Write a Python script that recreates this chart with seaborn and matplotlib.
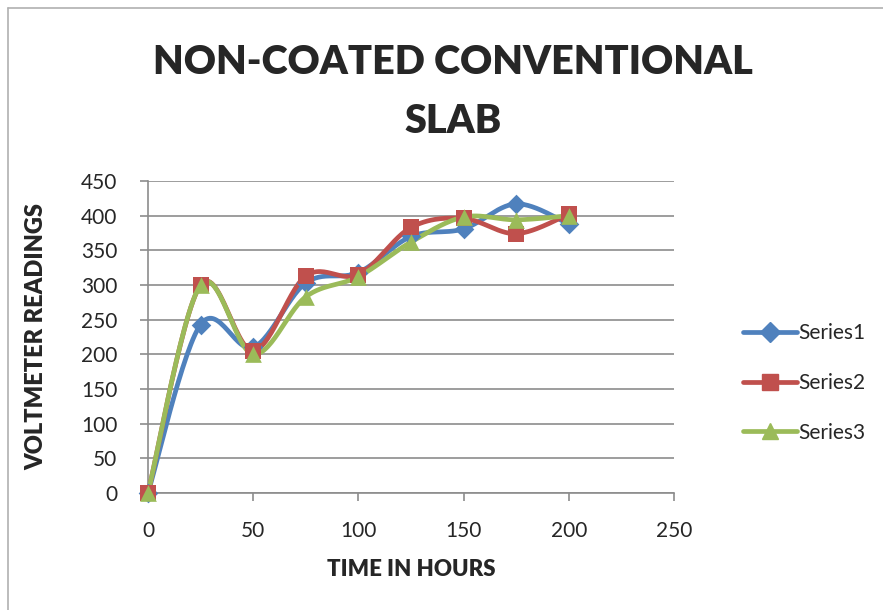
import numpy as np
import pandas as pd
import matplotlib
matplotlib.use("Agg")
import matplotlib.pyplot as plt
from matplotlib.lines import Line2D
import seaborn as sns

hours = [0, 25, 50, 75, 100, 125, 150, 175, 200]
series1 = [0, 243, 210, 303, 318, 370, 381, 417, 388]
series2 = [0, 300, 205, 313, 315, 383, 396, 374, 402]
series3 = [0, 300, 200, 283, 312, 362, 398, 394, 400]
series_names = ["Series1", "Series2", "Series3"]
x_ticks = [0, 50, 100, 150, 200, 250]
y_ticks = [0, 50, 100, 150, 200, 250, 300, 350, 400, 450]

colors = ["#4F81BD", "#C0504D", "#9BBB59"]
markers = ["D", "s", "^"]
msizes = [10, 12, 12]

sns.set_theme(style="white")
plt.rcParams["font.family"] = ["Lato", "DejaVu Sans"]

df = pd.DataFrame({
    "hours": hours * 3,
    "value": series1 + series2 + series3,
    "series": sum([[n] * len(hours) for n in series_names], []),
})


def bezier_smooth(xs, ys, n=30):
    P = np.column_stack([xs, ys]).astype(float)
    P_ext = np.vstack([P[0], P, P[-1]])
    out = []
    for i in range(len(P) - 1):
        p0, p1, p2, p3 = P_ext[i], P_ext[i + 1], P_ext[i + 2], P_ext[i + 3]
        c1 = p1 + (p2 - p0) / 6.0
        c2 = p2 - (p3 - p1) / 6.0
        t = np.linspace(0, 1, n)[:, None]
        seg = ((1 - t) ** 3) * p1 + 3 * ((1 - t) ** 2) * t * c1 + 3 * (1 - t) * t ** 2 * c2 + t ** 3 * p2
        out.append(seg if i == 0 else seg[1:])
    seg = np.vstack(out)
    return seg[:, 0], seg[:, 1]


fig = plt.figure(figsize=(8.83, 6.10), dpi=100)
ax = fig.add_axes([148 / 883, 1 - 493 / 610, (674 - 148) / 883, (493 - 181) / 610])

handles = []
for name, c, m, ms in zip(series_names, colors, markers, msizes):
    sub = df[df["series"] == name]
    sx, sy = bezier_smooth(sub["hours"].values, sub["value"].values)
    ax.plot(sx, sy, color=c, lw=3.4, solid_capstyle="round", zorder=3, clip_on=False)
    sns.scatterplot(x=sub["hours"], y=sub["value"], ax=ax, marker=m, s=ms ** 2,
                    color=c, edgecolor=c, linewidth=0, zorder=4, legend=False)
    handles.append(Line2D([0], [0], color=c, lw=3.4, marker=m, markersize=ms,
                          markeredgecolor=c, label=name))
for coll in ax.collections:
    coll.set_clip_on(False)

ax.set_xlim(0, 250)
ax.set_ylim(0, 450)
ax.set_xticks(x_ticks)
ax.set_yticks(y_ticks)
ax.set_xticklabels([str(v) for v in x_ticks], fontsize=15)
ax.set_yticklabels([str(v) for v in y_ticks], fontsize=15)
ax.yaxis.grid(True, color="#8C8C8C", lw=1.2)
ax.xaxis.grid(False)
ax.set_axisbelow(True)
for s in ["top", "right"]:
    ax.spines[s].set_visible(False)
for s in ["left", "bottom"]:
    ax.spines[s].set_color("#8C8C8C")
    ax.spines[s].set_linewidth(1.2)
ax.tick_params(axis="x", direction="out", length=6, width=1.2, color="#8C8C8C", pad=14, bottom=True)
ax.tick_params(axis="y", direction="out", length=6, width=1.2, color="#8C8C8C", pad=16, left=True)

ax.set_xlabel("TIME IN HOURS", fontsize=16, fontweight="heavy", labelpad=13)
ax.set_ylabel("VOLTMETER READINGS", fontsize=17, fontweight="heavy", labelpad=24)

fig.text(453 / 883, 1 - 92 / 610, "NON-COATED CONVENTIONAL\nSLAB", ha="center", va="center",
         fontsize=28.5, fontweight="heavy", linespacing=1.75)

fig.legend(handles=handles, loc="center left", bbox_to_anchor=(724 / 883, 1 - 383 / 610),
           frameon=False, fontsize=15, handlelength=2.6, labelspacing=1.42, handletextpad=0.05)

fig.add_artist(Line2D([8 / 883, 8 / 883], [0, 1 - 8 / 610], transform=fig.transFigure, color="#B0B0B0", lw=1.2))
fig.add_artist(Line2D([8 / 883, 1], [1 - 8 / 610, 1 - 8 / 610], transform=fig.transFigure, color="#B0B0B0", lw=1.2))

fig.savefig("out.png", dpi=100)
